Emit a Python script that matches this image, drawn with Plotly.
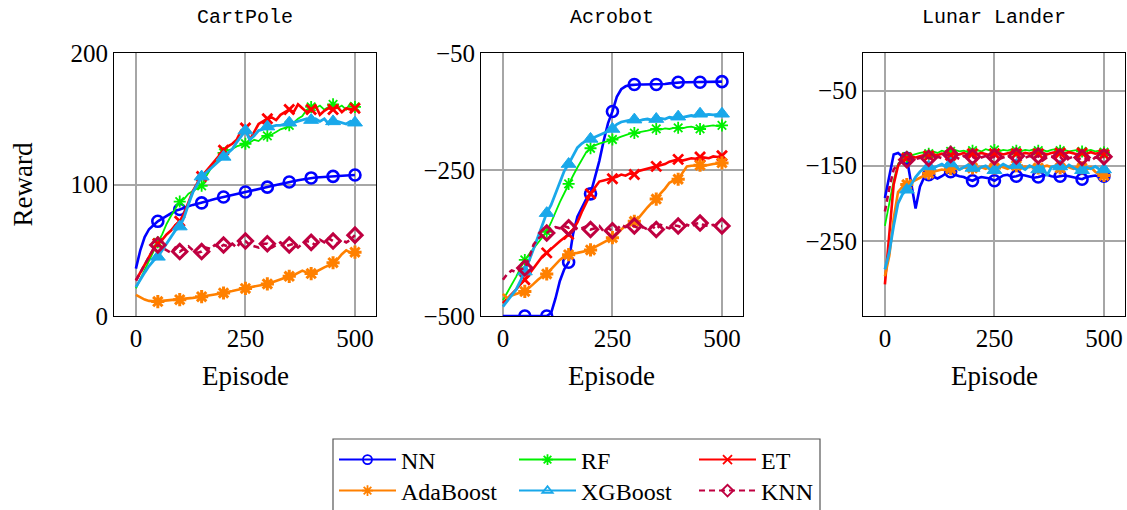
import plotly.graph_objects as go

W, H = 1127, 510

episodes = list(range(0, 501, 10))

methods = ["NN", "RF", "ET", "AdaBoost", "XGBoost", "KNN"]
env_titles = ["CartPole", "Acrobot", "Lunar Lander"]

x_ticks = [0, 250, 500]
cartpole_yticks = [0, 100, 200]
acrobot_yticks = [-500, -250, -50]
lunar_yticks = [-250, -150, -50]

# ---------------- CartPole ----------------
cartpole_nn = [36, 50, 60, 66, 69, 72, 74, 76, 78, 80, 81, 82.5, 83.5, 84.5, 85.3, 86, 87, 88, 89, 90,
               90.5, 91.3, 92, 92.8, 93.5, 94.3, 95, 95.8, 96.5, 97.3, 98, 98.8, 99.6, 100.4, 101.2,
               101.9, 102.6, 103.2, 103.8, 104.4, 105, 105.3, 105.5, 105.8, 106, 106.2, 106.4, 106.6,
               106.8, 107, 107.2]
cartpole_rf = [21, 28, 36, 43, 50, 56, 62, 70, 76, 82, 87, 89, 93, 95, 97, 99, 106, 112, 117, 120,
               124, 126, 127, 129, 130, 131, 132, 134, 133, 136, 137, 138, 140, 142, 143, 145, 147, 150,
               152, 157, 159, 158, 160, 157, 159, 161, 158, 160, 157, 162, 159]
cartpole_et = [27, 33, 40, 46, 51, 55, 58, 62, 65, 69, 72, 78, 86, 95, 101, 106, 110, 114, 118, 122,
               126, 129, 131, 134, 141, 143, 134, 140, 146, 148, 150, 151, 149, 153, 155, 157, 155, 161,
               158, 155, 157, 160, 153, 156, 158, 157, 159, 155, 158, 157, 158]
cartpole_ada = [16, 14, 12.5, 11.5, 11, 11, 11.5, 11.8, 12, 12.2, 12.4, 12.8, 13.2, 13.8, 14.3, 14.7,
                15.2, 15.8, 16.4, 17, 17.5, 18.3, 19, 19.8, 20.4, 21, 21.8, 22.5, 23, 23.6, 24.4, 25.5,
                26.8, 28, 29.3, 30.2, 31, 32.5, 34.5, 33, 32.3, 33.5, 35.5, 37, 38.5, 40.5, 43, 47, 50,
                48, 48.5]
cartpole_xgb = [22, 28, 33, 38, 42, 45, 50, 56, 61, 65, 68, 75, 85, 94, 100, 106, 109, 112, 115, 118,
                121, 124, 127, 132, 137, 141, 134, 137, 141, 142, 144, 144, 145, 145, 146, 147, 147, 148,
                149, 150, 149, 150, 148, 150, 146, 148, 148, 147, 146, 148, 147]
cartpole_knn = [27, 33, 40, 46, 51, 54, 52, 50, 48, 52, 49, 51, 53, 50, 48, 49, 52, 51, 54, 52, 54,
                53, 55, 52, 57, 57, 54, 53, 52, 55, 55, 52, 54, 56, 53, 54, 55, 52, 55, 57, 56, 54, 58,
                56, 59, 57, 55, 58, 56, 58, 61.5]

# ---------------- Acrobot ----------------
acrobot_nn = [-500, -500, -500, -500, -500, -500, -500, -500, -500, -500, -500, -495, -470, -440, -420,
              -408, -360, -330, -315, -300, -291, -265, -235, -200, -170, -150, -125, -112, -107, -105,
              -104, -104, -104, -104, -104, -104, -103, -103, -102, -101, -100, -100, -100, -100, -100,
              -100, -99.5, -99, -99, -99, -99]
acrobot_rf = [-473, -460, -447, -433, -418, -404, -394, -384, -375, -365, -356, -340, -322, -305, -290,
              -274, -260, -246, -232, -220, -213, -208, -205, -203, -200, -198, -196, -193, -190, -188,
              -187, -186, -184, -183, -181, -180, -181, -179, -180, -178, -178, -179, -177, -176, -178,
              -180, -176, -175, -174, -175, -174]
acrobot_et = [-478, -470, -462, -455, -445, -438, -428, -418, -408, -398, -392, -385, -378, -372, -366,
              -360, -352, -340, -322, -305, -291, -280, -270, -268, -266, -265, -262, -258, -260, -256,
              -258, -252, -250, -248, -246, -244, -243, -240, -236, -234, -232, -234, -232, -230, -231,
              -228, -229, -230, -227, -228, -226]
acrobot_ada = [-462, -470, -465, -462, -460, -458, -452, -445, -438, -432, -428, -420, -412, -404, -398,
               -395, -393, -392, -390, -389, -387, -382, -378, -375, -370, -366, -360, -352, -346, -342,
               -338, -332, -322, -314, -306, -300, -290, -282, -272, -268, -266, -256, -244, -243, -242,
               -242, -243, -241, -240, -239, -238]
acrobot_xgb = [-484, -475, -465, -455, -440, -424, -405, -385, -365, -345, -324, -310, -290, -270, -252,
               -240, -225, -212, -205, -200, -197, -194, -191, -188, -184, -180, -172, -168, -166, -165,
               -164, -166, -164, -163, -165, -163, -162, -163, -160, -161, -159, -160, -158, -157, -158,
               -154, -156, -155, -156, -155, -154]
acrobot_knn = [-438, -428, -422, -425, -420, -418, -400, -378, -368, -362, -358, -352, -348, -350, -346,
               -349, -345, -352, -350, -347, -352, -350, -346, -355, -350, -354, -352, -344, -348, -345,
               -346, -350, -348, -352, -346, -352, -344, -348, -350, -345, -346, -349, -344, -347, -342,
               -341, -345, -346, -344, -347, -346]

# ---------------- Lunar Lander ----------------
lunar_nn = [-193, -165, -135, -133, -138, -140, -175, -207, -178, -165, -162, -165, -167, -164, -160,
            -158, -162, -164, -165, -168, -170, -167, -165, -166, -167, -170, -166, -163, -162, -165,
            -164, -162, -163, -165, -166, -165, -163, -162, -164, -165, -164, -163, -164, -165, -166,
            -168, -165, -164, -163, -165, -164]
lunar_rf = [-230, -200, -170, -148, -140, -138, -136, -134, -133, -132, -134, -131, -133, -130, -132,
            -131, -129, -131, -130, -132, -130, -129, -131, -128, -130, -129, -131, -129, -130, -128,
            -130, -131, -129, -130, -128, -130, -129, -131, -129, -128, -130, -129, -131, -130, -129,
            -131, -130, -129, -131, -130, -132]
lunar_et = [-308, -240, -175, -150, -143, -140, -138, -139, -137, -136, -137, -135, -136, -134, -135,
            -136, -134, -135, -133, -136, -134, -135, -133, -134, -136, -134, -133, -135, -134, -132,
            -134, -135, -133, -134, -132, -134, -133, -135, -133, -132, -133, -134, -132, -133, -135,
            -133, -134, -132, -134, -133, -135]
lunar_ada = [-297, -270, -220, -185, -178, -175, -172, -168, -165, -162, -160, -158, -156, -155, -156,
             -154, -153, -155, -152, -154, -153, -155, -152, -154, -151, -153, -150, -152, -154, -151,
             -150, -153, -151, -152, -150, -153, -151, -150, -152, -151, -153, -150, -152, -154, -151,
             -153, -155, -152, -158, -162, -163]
lunar_xgb = [-288, -265, -230, -200, -188, -182, -175, -165, -158, -153, -151, -153, -150, -148, -152,
             -147, -150, -155, -152, -149, -153, -156, -152, -150, -155, -156, -152, -148, -151, -153,
             -149, -152, -155, -150, -153, -155, -151, -163, -152, -150, -151, -154, -149, -153, -156,
             -156, -152, -154, -151, -155, -155]
lunar_knn = [-211, -180, -155, -148, -144, -142, -140, -141, -139, -138, -140, -141, -138, -140, -136,
             -135, -138, -141, -137, -139, -138, -142, -139, -137, -140, -138, -141, -139, -137, -140,
             -137, -142, -139, -137, -140, -137, -143, -139, -138, -141, -138, -145, -140, -138, -142,
             -139, -141, -144, -139, -140, -138]

data = [
    {"NN": cartpole_nn, "RF": cartpole_rf, "ET": cartpole_et, "AdaBoost": cartpole_ada,
     "XGBoost": cartpole_xgb, "KNN": cartpole_knn},
    {"NN": acrobot_nn, "RF": acrobot_rf, "ET": acrobot_et, "AdaBoost": acrobot_ada,
     "XGBoost": acrobot_xgb, "KNN": acrobot_knn},
    {"NN": lunar_nn, "RF": lunar_rf, "ET": lunar_et, "AdaBoost": lunar_ada,
     "XGBoost": lunar_xgb, "KNN": lunar_knn},
]
yticks = [cartpole_yticks, acrobot_yticks, lunar_yticks]
yranges = [[0, 200], [-500, -50], [-350, 0]]

colors = {"NN": "#0000FF", "RF": "#00F000", "ET": "#FF0000", "AdaBoost": "#FF8000",
          "XGBoost": "#19A8EA", "KNN": "#BF0040"}
symbols = {"NN": "circle-open", "RF": "asterisk-open", "ET": "x-thin-open",
           "AdaBoost": "asterisk-open", "XGBoost": "triangle-up", "KNN": "diamond-open"}
msize = {"NN": 11, "RF": 10, "ET": 10, "AdaBoost": 11, "XGBoost": 13, "KNN": 11}
mline = {"NN": 2.6, "RF": 1.8, "ET": 2.8, "AdaBoost": 3, "XGBoost": 1, "KNN": 3}
lwidth = {"NN": 2.6, "RF": 1.8, "ET": 2.6, "AdaBoost": 2.6, "XGBoost": 2.8, "KNN": 2.6}
dashes = {"KNN": "6px,4px"}

# pixel layout
xdom_px = [(114, 376), (481, 743), (863, 1125)]
ydom_px = (53, 316)

fig = go.Figure()

for i, env in enumerate(data):
    xa = "x" if i == 0 else f"x{i+1}"
    ya = "y" if i == 0 else f"y{i+1}"
    for m in methods:
        vals = env[m]
        fig.add_trace(go.Scatter(
            x=episodes, y=vals, mode="lines", xaxis=xa, yaxis=ya, showlegend=False,
            line=dict(color=colors[m], width=lwidth[m], dash=dashes.get(m, "solid")),
            hoverinfo="skip"))
        fig.add_trace(go.Scatter(
            x=episodes[5::5], y=vals[5::5], mode="markers", xaxis=xa, yaxis=ya, showlegend=False,
            marker=dict(symbol=symbols[m], size=msize[m], color=colors[m],
                        line=dict(color=colors[m], width=mline[m])),
            hoverinfo="skip"))

# legend-only traces
row1 = ["NN", "RF", "ET"]
row2 = ["AdaBoost", "XGBoost", "KNN"]
for m in methods:
    fig.add_trace(go.Scatter(
        x=[None], y=[None], mode="lines+markers", name=m,
        legend="legend" if m in row1 else "legend2",
        line=dict(color=colors[m], width=2, dash=dashes.get(m, "solid")),
        marker=dict(symbol=symbols[m] if m != "XGBoost" else "triangle-up-open",
                    size=9, color=colors[m], line=dict(color=colors[m], width=1.8))))

axis_common = dict(showgrid=True, gridcolor="#A6A6A6", gridwidth=1.5, zeroline=False,
                   showline=True, linecolor="black", linewidth=1, mirror=True, ticks="",
                   tickfont=dict(family="Liberation Serif", size=25, color="black"))

layout = dict(width=W, height=H, margin=dict(l=0, r=0, t=0, b=0, autoexpand=False),
              plot_bgcolor="white", paper_bgcolor="white", showlegend=True)

for i in range(3):
    xk = "xaxis" if i == 0 else f"xaxis{i+1}"
    yk = "yaxis" if i == 0 else f"yaxis{i+1}"
    ya = "y" if i == 0 else f"y{i+1}"
    xa = "x" if i == 0 else f"x{i+1}"
    x0, x1 = xdom_px[i]
    layout[xk] = dict(domain=[x0 / W, x1 / W], range=[-50, 548], tickvals=x_ticks,
                      anchor=ya, **axis_common)
    layout[yk] = dict(domain=[1 - ydom_px[1] / H, 1 - ydom_px[0] / H], range=yranges[i],
                      tickvals=yticks[i], anchor=xa, **axis_common)

leg_common = dict(orientation="h", xanchor="left", yanchor="middle", entrywidth=108,
                  entrywidthmode="pixels", itemwidth=57, bgcolor="rgba(0,0,0,0)", borderwidth=0,
                  font=dict(family="Liberation Serif", size=24, color="black"),
                  itemclick=False, itemdoubleclick=False)
layout["legend"] = dict(x=334 / W, y=1 - 460 / H, **leg_common)
layout["legend2"] = dict(x=334 / W, y=1 - 491 / H, **leg_common)

annotations = []
centers = [(a + b) / 2 for a, b in xdom_px]
for i, t in enumerate(env_titles):
    annotations.append(dict(text=t, x=centers[i] / W, y=1 - 18 / H, xref="paper", yref="paper",
                            showarrow=False, xanchor="center", yanchor="middle",
                            font=dict(family="Liberation Mono", size=20, color="black")))
    annotations.append(dict(text="Episode", x=centers[i] / W, y=1 - 376 / H, xref="paper",
                            yref="paper", showarrow=False, xanchor="center", yanchor="middle",
                            font=dict(family="Liberation Serif", size=27, color="black")))
annotations.append(dict(text="Reward", x=22 / W, y=1 - 184.5 / H, xref="paper", yref="paper",
                        showarrow=False, textangle=-90, xanchor="center", yanchor="middle",
                        font=dict(family="Liberation Serif", size=27, color="black")))
layout["annotations"] = annotations
layout["shapes"] = [dict(type="rect", xref="paper", yref="paper", x0=333 / W, x1=820 / W,
                         y0=-0.1, y1=1 - 439 / H, line=dict(color="#555555", width=1.2))]

fig.update_layout(**layout)
fig.write_html("out.html", config={"displayModeBar": False},
               post_script="document.body.style.margin='0px';document.body.style.overflow='hidden';")
